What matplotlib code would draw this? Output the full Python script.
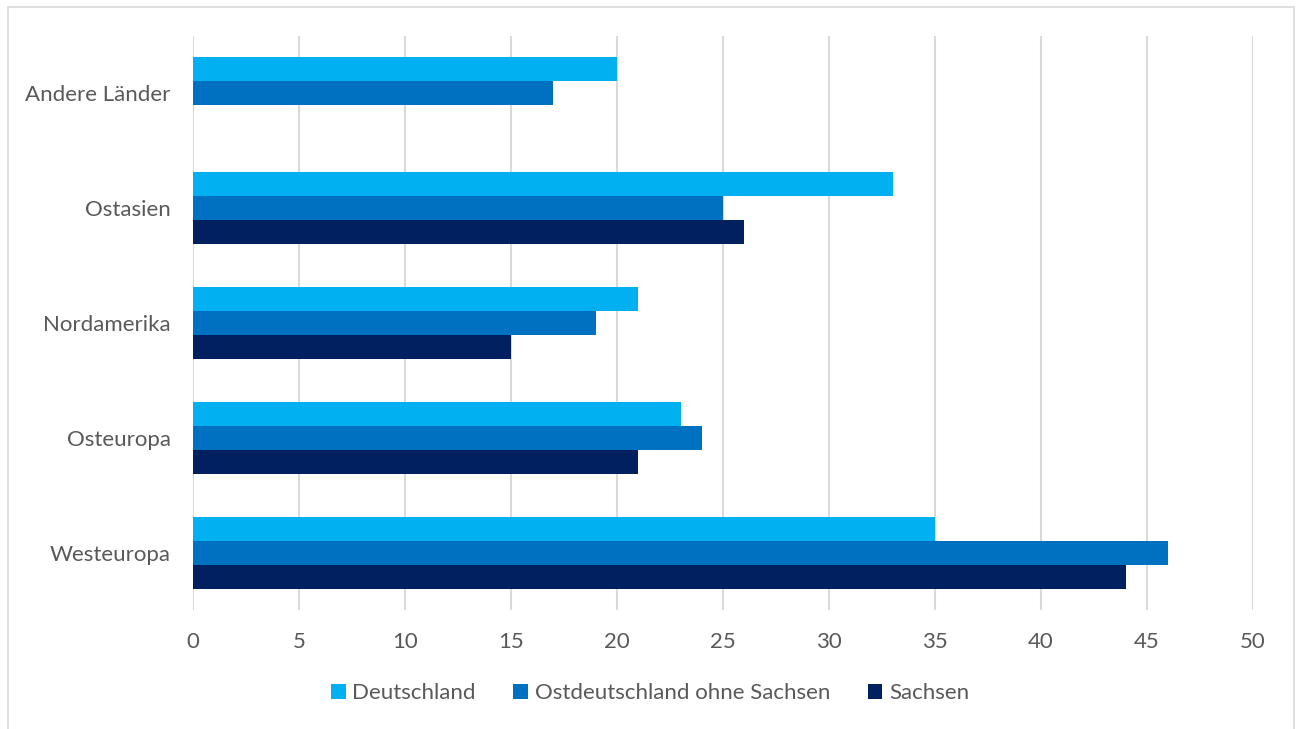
import numpy as np
import matplotlib.pyplot as plt
from matplotlib.patches import Rectangle

# Regionen von unten nach oben
regionen = ["Westeuropa", "Osteuropa", "Nordamerika", "Ostasien", "Andere Länder"]
deutschland = [35, 23, 21, 33, 20]
ost_ohne_sachsen = [46, 24, 19, 25, 17]
sachsen = [44, 21, 15, 26, np.nan]

serien = ["Deutschland", "Ostdeutschland ohne Sachsen", "Sachsen"]
farben = ["#00B0F0", "#0070C0", "#002060"]
x_ticks = list(range(0, 51, 5))

plt.rcParams["font.family"] = ["Lato", "DejaVu Sans"]
textfarbe = "#595959"

fig = plt.figure(figsize=(13, 7.29), dpi=100)
ax = fig.add_axes([193 / 1300, 1 - 610 / 729, (1253 - 193) / 1300, (610 - 36) / 729])

y = np.arange(len(regionen))
h = 0.209
for i, (werte, name, farbe) in enumerate(zip([deutschland, ost_ohne_sachsen, sachsen], serien, farben)):
    ax.barh(y + (1 - i) * h, werte, height=h, color=farbe, label=name, zorder=3)

ax.set_xlim(0, 50)
ax.set_ylim(-0.5, len(regionen) - 0.5)
ax.set_xticks(x_ticks)
ax.set_yticks(y)
ax.set_yticklabels(regionen)
ax.tick_params(axis="both", length=0, labelsize=16, colors=textfarbe)
ax.tick_params(axis="x", pad=16)
ax.tick_params(axis="y", pad=16)
ax.grid(axis="x", color="#D9D9D9", linewidth=1.5, zorder=0)
for s in ax.spines.values():
    s.set_visible(False)

leg = fig.legend(loc="center", bbox_to_anchor=(0.5, 1 - 693 / 729), ncol=3, frameon=False,
                 fontsize=16, handlelength=0.65, handleheight=0.65, handletextpad=0.3,
                 columnspacing=1.7)
for t in leg.get_texts():
    t.set_color(textfarbe)

# Rahmen um das Diagramm
fig.patches.append(Rectangle((8 / 1300, -0.01), (1294 - 8) / 1300, 1 - 7 / 729 + 0.01,
                             transform=fig.transFigure, fill=False, edgecolor="#D9D9D9",
                             linewidth=1.2))

fig.savefig("out.png", dpi=100, facecolor="white")
